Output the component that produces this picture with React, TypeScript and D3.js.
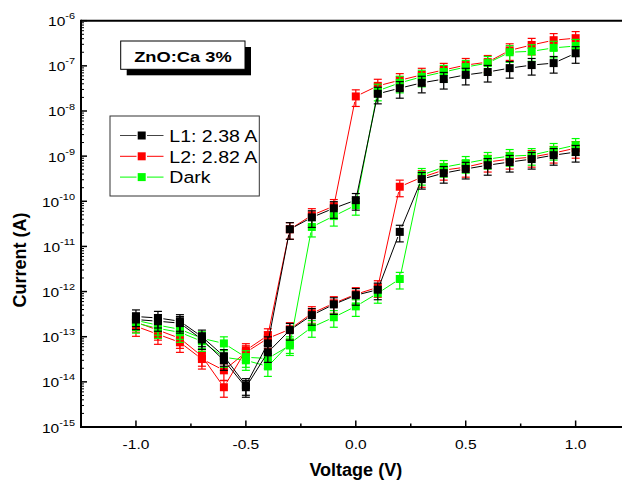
import React from "react";
import * as d3 from "d3";

// ---- data ----
const voltages = [-1.0, -0.9, -0.8, -0.7, -0.6, -0.5, -0.4, -0.3, -0.2, -0.1, 0.0, 0.1, 0.2, 0.3, 0.4, 0.5, 0.6, 0.7, 0.8, 0.9, 1.0];

const l1Lower = [2.4e-13, 2.2e-13, 2.0e-13, 8.7e-14, 3.0e-14, 7.6e-15, 4.5e-14, 1.4e-13, 3.0e-13, 5.2e-13, 8.3e-13, 1.1e-12, 2.1e-11, 3.1e-10, 4.2e-10, 5.2e-10, 6.3e-10, 7.4e-10, 8.6e-10, 1.05e-9, 1.23e-9];
const l1Upper = [2.8e-13, 2.6e-13, 2.2e-13, 1.0e-13, 3.7e-14, 8.4e-15, 7.1e-14, 2.4e-11, 4.4e-11, 7.0e-11, 1.06e-10, 2.4e-8, 3.2e-8, 4.2e-8, 5.1e-8, 6.3e-8, 7.3e-8, 8.9e-8, 1.04e-7, 1.15e-7, 1.9e-7];

const l2Lower = [1.7e-13, 1.13e-13, 7.5e-14, 3.2e-14, 1.8e-14, 4.5e-14, 9.2e-14, 1.46e-13, 3.3e-13, 5.5e-13, 8.7e-13, 1.24e-12, 2.1e-10, 3.4e-10, 4.9e-10, 5.7e-10, 7.4e-10, 8.6e-10, 9.5e-10, 1.17e-9, 1.5e-9];
const l2Upper = [2.1e-13, 1.4e-13, 9.2e-14, 3.7e-14, 7.6e-15, 5.0e-14, 1.07e-13, 2.4e-11, 4.9e-11, 7.8e-11, 2.1e-8, 3.6e-8, 4.8e-8, 6.3e-8, 8.1e-8, 1.04e-7, 1.21e-7, 2.2e-7, 2.9e-7, 3.7e-7, 4.1e-7];

const darkLower = [2.0e-13, 1.53e-13, 1.25e-13, 7.9e-14, 3.5e-14, 3.0e-14, 2.2e-14, 7.1e-14, 1.62e-13, 2.7e-13, 4.7e-13, 9.2e-13, 1.9e-12, 3.8e-10, 5.7e-10, 7.0e-10, 8.6e-10, 1.0e-9, 1.05e-9, 1.36e-9, 1.75e-9];
const darkUpper = [2.3e-13, 1.8e-13, 1.46e-13, 9.2e-14, 7.1e-14, 3.5e-14, 3.3e-14, 6.4e-14, 2.7e-11, 4.7e-11, 8.2e-11, 2.8e-8, 4.2e-8, 5.7e-8, 7.3e-8, 9.4e-8, 1.15e-7, 2.0e-7, 2.1e-7, 2.5e-7, 2.75e-7];

const relErr = 0.4; // relative error bar size

const legendNames = ["L1: 2.38 A", "L2: 2.82 A", "Dark"];
const xTickValues = [-1.0, -0.5, 0.0, 0.5, 1.0];
const xMinorTickValues = [-0.75, -0.25, 0.25, 0.75];
const yExponents = [-6, -7, -8, -9, -10, -11, -12, -13, -14, -15];
const titleText = "ZnO:Ca 3%";
const xTitle = "Voltage (V)";
const yTitle = "Current (A)";

// ---- layout ----
const W = 622;
const H = 484;
const FONT = "Arial, 'Liberation Sans', sans-serif";
const x = d3.scaleLinear().domain([-1.25, 1.25]).range([81, 630.6]);
const y = d3.scaleLog().domain([1e-15, 1e-6]).range([427, 20.7]);
const SX = 1.15; // horizontal stretch of small texts

const seriesDraw = [
  { name: legendNames[1], color: "#ff0000", branches: [l2Lower, l2Upper] },
  { name: legendNames[2], color: "#00ff00", branches: [darkLower, darkUpper] },
  { name: legendNames[0], color: "#000000", branches: [l1Lower, l1Upper] },
];
const legendItems = [
  { name: legendNames[0], color: "#000000", line: "#444444" },
  { name: legendNames[1], color: "#ff0000", line: "#ff0000" },
  { name: legendNames[2], color: "#00ff00", line: "#00ff00" },
];

function gapped(pts: [number, number][], gap: number) {
  const segs: { x1: number; y1: number; x2: number; y2: number }[] = [];
  for (let i = 0; i < pts.length - 1; i++) {
    const [ax, ay] = pts[i];
    const [bx, by] = pts[i + 1];
    const dx = bx - ax, dy = by - ay;
    const len = Math.hypot(dx, dy);
    if (len <= 2 * gap) continue;
    const ux = dx / len, uy = dy / len;
    segs.push({ x1: ax + ux * gap, y1: ay + uy * gap, x2: bx - ux * gap, y2: by - uy * gap });
  }
  return segs;
}

export default function App() {
  const minorY: number[] = [];
  for (let e = -15; e < -6; e++) for (let k = 2; k <= 9; k++) minorY.push(k * Math.pow(10, e));

  return (
    <div style={{ position: "absolute", left: 0, top: 0 }}>
      <svg width={W} height={H} style={{ display: "block", background: "#fff" }} fontFamily={FONT}>
        {/* series */}
        {seriesDraw.map((s, si) => (
          <g key={si}>
            {s.branches.map((vals, bi) => {
              const pts: [number, number][] = voltages.map((v, i) => [x(v), y(vals[i])]);
              return (
                <g key={bi}>
                  {gapped(pts, 5.5).map((sg, k) => (
                    <line key={k} {...sg} stroke={s.color} strokeWidth={1} />
                  ))}
                </g>
              );
            })}
            {s.branches.map((vals, bi) => (
              <g key={"e" + bi}>
                {voltages.map((v, i) => {
                  const cx = x(v);
                  const yt = y(vals[i] * (1 + relErr));
                  const yb = y(vals[i] * (1 - relErr));
                  return (
                    <g key={i} stroke={s.color} strokeWidth={1.2}>
                      <line x1={cx} x2={cx} y1={yt} y2={yb} />
                      <line x1={cx - 4} x2={cx + 4} y1={yt} y2={yt} />
                      <line x1={cx - 4} x2={cx + 4} y1={yb} y2={yb} />
                    </g>
                  );
                })}
                {voltages.map((v, i) => (
                  <rect key={"m" + i} x={x(v) - 4} y={y(vals[i]) - 4} width={8} height={8} fill={s.color} />
                ))}
              </g>
            ))}
          </g>
        ))}

        {/* axes frame */}
        <line x1={81} x2={631} y1={20.7} y2={20.7} stroke="#000" strokeWidth={2} />
        <line x1={80} x2={631} y1={427} y2={427} stroke="#000" strokeWidth={2} />
        <line x1={81} x2={81} y1={19.7} y2={428} stroke="#000" strokeWidth={2} />

        {/* y ticks */}
        {yExponents.map((e) => {
          const yy = y(Math.pow(10, e));
          return (
            <g key={e}>
              <line x1={81} x2={87} y1={yy} y2={yy} stroke="#000" strokeWidth={1.5} />
              <text x={0} y={0} transform={`translate(75,${yy + 5.5}) scale(${SX},1)`} textAnchor="end" fontSize={13.5} fill="#000">
                10<tspan fontSize={9.5} dy={-7}>{String(e)}</tspan>
              </text>
            </g>
          );
        })}
        {minorY.map((v, i) => (
          <line key={i} x1={81} x2={84} y1={y(v)} y2={y(v)} stroke="#000" strokeWidth={1} />
        ))}

        {/* x ticks */}
        {xTickValues.map((v) => (
          <g key={v}>
            <line x1={x(v)} x2={x(v)} y1={427} y2={420.5} stroke="#000" strokeWidth={1.5} />
            <text transform={`translate(${x(v)},449) scale(${SX},1)`} textAnchor="middle" fontSize={13.5} fill="#000">
              {v.toFixed(1)}
            </text>
          </g>
        ))}
        {xMinorTickValues.map((v) => (
          <line key={v} x1={x(v)} x2={x(v)} y1={427} y2={423.5} stroke="#000" strokeWidth={1.5} />
        ))}

        {/* axis titles */}
        <text x={355.8} y={476} textAnchor="middle" fontSize={18} fontWeight="bold" fill="#000">{xTitle}</text>
        <text transform="translate(25.5,260) rotate(-90)" textAnchor="middle" fontSize={18} fontWeight="bold" fill="#000">{yTitle}</text>

        {/* title box */}
        <rect x={126.7} y={47} width={124.3} height={28.3} fill="#000" />
        <rect x={120.7} y={41} width={124.3} height={28.3} fill="#fff" stroke="#000" strokeWidth={1} />
        <text transform={`translate(182.9,62) scale(1.18,1)`} textAnchor="middle" fontSize={15.5} fontWeight="bold" fill="#000">{titleText}</text>

        {/* legend */}
        <rect x={110} y={116} width={149.3} height={80} fill="#fff" stroke="#333" strokeWidth={1} />
        {legendItems.map((it, i) => {
          const cy = 135.5 + i * 20.8;
          return (
            <g key={i}>
              <line x1={120} x2={136.5} y1={cy} y2={cy} stroke={it.line} strokeWidth={1} />
              <line x1={147} x2={163.5} y1={cy} y2={cy} stroke={it.line} strokeWidth={1} />
              <rect x={137.7} y={cy - 4} width={8} height={8} fill={it.color} />
              <text transform={`translate(169.3,${cy + 6.2}) scale(${SX},1)`} fontSize={17} fill="#000">{it.name}</text>
            </g>
          );
        })}
      </svg>
    </div>
  );
}
